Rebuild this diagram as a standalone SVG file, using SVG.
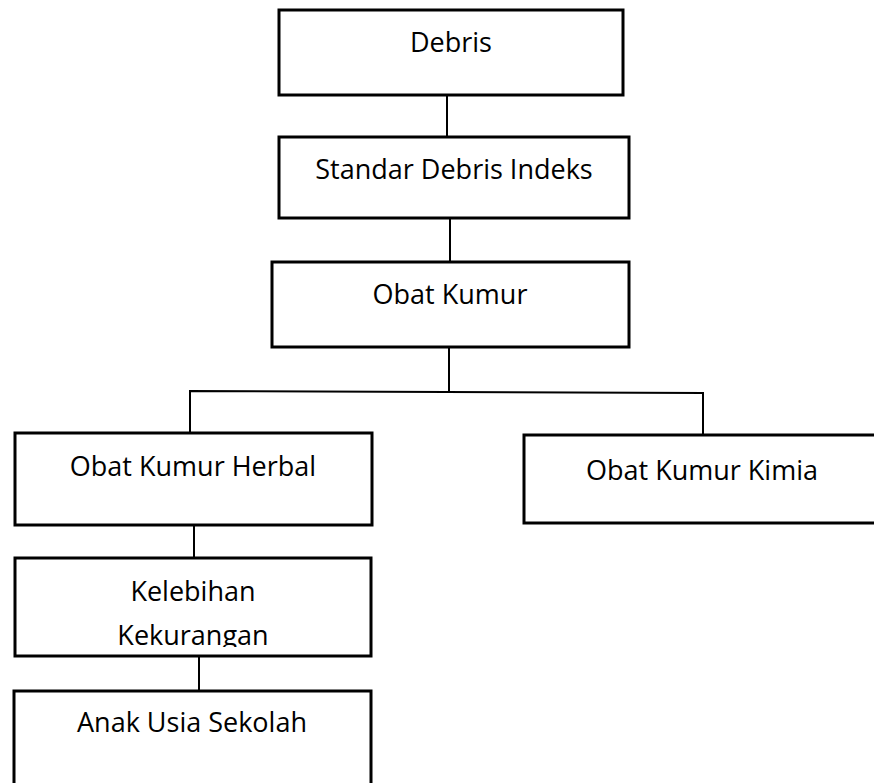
<svg xmlns="http://www.w3.org/2000/svg" width="874" height="783" viewBox="0 0 874 783">
<style>
.box{fill:#fff;stroke:#000;stroke-width:3}
.lbl{font-family:"Open Sans","Noto Sans","Liberation Sans",sans-serif;font-size:27px;fill:#000;text-anchor:middle}
.con{stroke:#000;stroke-width:2;fill:none}
</style>
<defs>
<clipPath id="clipKel"><rect x="15" y="558" width="356" height="89"/></clipPath>
</defs>
<rect width="874" height="783" fill="#fff"/>
<g id="connectors">
<line class="con" x1="447" y1="95" x2="447" y2="137"/>
<line class="con" x1="450" y1="218" x2="450" y2="262"/>
<line class="con" x1="449" y1="347" x2="449" y2="392"/>
<polyline class="con" points="190,433 190,391 703,393 703,435"/>
<line class="con" x1="194" y1="525" x2="194" y2="558"/>
<line class="con" x1="199" y1="656" x2="199" y2="691"/>
</g>
<g id="debris">
<rect class="box" x="279" y="10" width="344" height="85"/>
<text class="lbl" x="451" y="52">Debris</text>
</g>
<g id="standar">
<rect class="box" x="279" y="137" width="350" height="81"/>
<text class="lbl" x="454" y="179">Standar Debris Indeks</text>
</g>
<g id="obat">
<rect class="box" x="272" y="262" width="357" height="85"/>
<text class="lbl" x="450" y="304">Obat Kumur</text>
</g>
<g id="herbal">
<rect class="box" x="15" y="433" width="357" height="92"/>
<text class="lbl" x="193" y="476">Obat Kumur Herbal</text>
</g>
<g id="kimia">
<rect class="box" x="524" y="435" width="360" height="88"/>
<text class="lbl" x="702" y="480">Obat Kumur Kimia</text>
</g>
<g id="kelebihan">
<rect class="box" x="15" y="558" width="356" height="98"/>
<text class="lbl" x="193" y="601">Kelebihan</text>
<text class="lbl" x="193" y="645" clip-path="url(#clipKel)">Kekurangan</text>
</g>
<g id="anak">
<rect class="box" x="14" y="691" width="357" height="120"/>
<text class="lbl" x="192" y="732">Anak Usia Sekolah</text>
</g>
</svg>
